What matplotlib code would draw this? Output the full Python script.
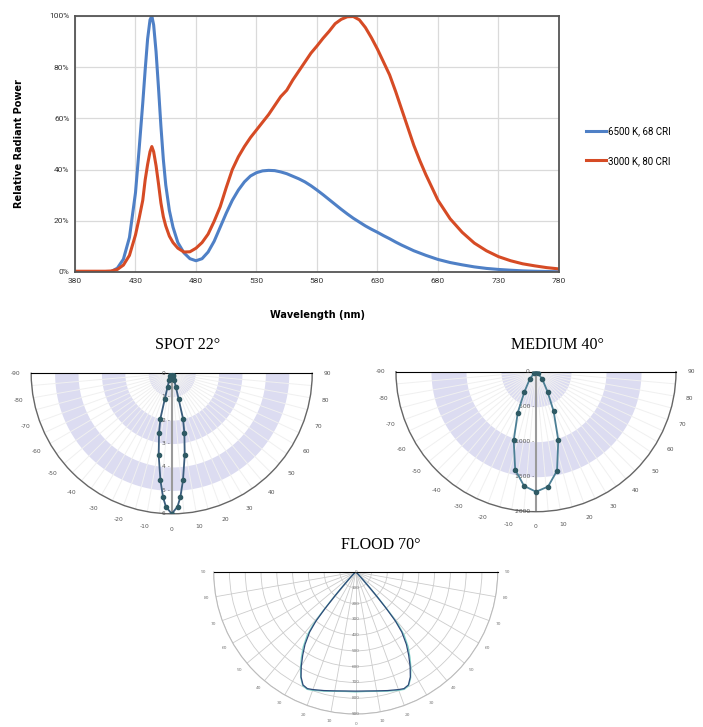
import matplotlib
matplotlib.use('Agg')
import matplotlib.pyplot as plt
import matplotlib.transforms as mtransforms
import numpy as np

# ---- spectral power distribution (wavelength nm, relative power %) ----
wavelength = [380, 390, 400, 405, 410, 415, 420, 425, 430, 433,
              436, 438, 440, 442, 443.5, 445, 447, 449, 451, 453,
              455, 458, 461, 465, 470, 475, 480, 485, 490, 495,
              500, 505, 510, 515, 520, 525, 530, 535, 540, 545,
              550, 555, 560, 565, 570, 575, 580, 585, 590, 595,
              600, 605, 610, 615, 620, 625, 630, 635, 640, 645,
              650, 655, 660, 665, 670, 675, 680, 690, 700, 710,
              720, 730, 740, 750, 760, 770, 780]
power_6500 = [0, 0, 0, 0, 0.2, 1.5, 5, 13.5, 31, 48,
              66, 79, 91, 98.5, 100, 96.5, 86, 72, 57, 44,
              34, 24, 17.5, 11.5, 7.5, 5.2, 4.4, 5.2, 7.8, 12,
              17.5, 23, 28, 32, 35.2, 37.5, 38.8, 39.5, 39.7, 39.6,
              39.1, 38.4, 37.4, 36.4, 35.2, 33.7, 32, 30.2, 28.3, 26.4,
              24.5, 22.7, 21, 19.5, 18, 16.7, 15.5, 14.2, 13, 11.7,
              10.5, 9.4, 8.3, 7.4, 6.5, 5.7, 4.9, 3.7, 2.8, 2.0,
              1.4, 1.0, 0.7, 0.45, 0.3, 0.2, 0.1]
power_3000 = [0.3, 0.3, 0.3, 0.3, 0.4, 1.0, 2.7, 6.5, 14.5, 21,
              28, 36, 42, 47, 49, 47, 41.5, 34.5, 27, 21.6,
              18, 14, 11.5, 9.3, 7.8, 7.9, 9.3, 11.5, 14.8, 19.8,
              25.5, 33, 40, 45, 49, 52.5, 55.5, 58.5, 61.5, 65,
              68.5, 71, 75, 78.5, 82, 85.5, 88.3, 91.3, 94, 97,
              98.7, 99.7, 99.8, 98.5, 95.5, 91.5, 87, 82, 77, 70.5,
              63.5, 56.5, 49.5, 43.5, 38, 33, 28, 20.8, 15.5, 11.3,
              8.3, 6.0, 4.4, 3.2, 2.4, 1.7, 1.2]
labels = ['6500 K, 68 CRI', '3000 K, 80 CRI']
x_ticks = [380, 430, 480, 530, 580, 630, 680, 730, 780]
y_ticks = [0, 20, 40, 60, 80, 100]

# ---- beam patterns (angle deg, intensity) ----
spot_angle = [-40, -30, -25, -20, -17, -15, -14, -12, -9, -6, -4, -2.5,
              0, 2.5, 4, 6, 9, 12, 14, 15, 17, 20, 25, 30, 40]
spot_int = [0.03, 0.08, 0.15, 0.3, 0.6, 1.15, 2.0, 2.6, 3.55, 4.6, 5.3, 5.7,
            6.0, 5.7, 5.3, 4.6, 3.55, 2.6, 2.0, 1.15, 0.6, 0.3, 0.15, 0.08, 0.03]
spot_rticks = [0, 1, 2, 3, 4, 5, 6]

medium_angle = [-60, -50, -40, -30, -24, -18, -12, -6, 0, 6, 12, 18, 24, 30, 40, 50, 60]
medium_int = [15, 40, 140, 330, 640, 1030, 1430, 1640, 1715,
              1650, 1445, 1030, 620, 330, 140, 40, 15]
medium_rticks = [0, 500, 1000, 1500, 2000]

flood_angle = [-60, -50, -47, -44, -42, -41, -40, -39, -37.5, -35, -32.5, -30, -27.5,
               -25, -22.5, -20, -15, -10, -5, 0, 5, 10, 15, 20, 22.5, 25, 27.5,
               30, 32.5, 35, 37.5, 39, 40, 41, 42, 44, 47, 50, 60]
flood_int_a = [3, 10, 20, 50, 120, 200, 300, 400, 480, 560, 625, 690, 750,
               790, 800, 793, 778, 765, 757, 755, 757, 765, 778, 793, 800, 790, 750,
               690, 625, 560, 480, 400, 300, 200, 120, 50, 20, 10, 3]
flood_int_b = [3, 12, 25, 60, 140, 230, 330, 430, 505, 580, 640, 700, 755,
               795, 805, 798, 782, 768, 760, 760, 760, 768, 782, 798, 805, 795, 755,
               700, 640, 580, 505, 430, 330, 230, 140, 60, 25, 12, 3]
flood_rticks = [0, 100, 200, 300, 400, 500, 600, 700, 800, 900]

W, H = 703, 727
fig = plt.figure(figsize=(W / 100, H / 100), dpi=100)
fig.patch.set_facecolor('white')

# ================= spectrum chart =================
ax = fig.add_axes([75 / W, 1 - 272 / H, 484 / W, 256 / H])
l1, = ax.plot(wavelength, power_6500, color='#4f80c6', lw=2.2)
l2, = ax.plot(wavelength, power_3000, color='#d64b25', lw=2.2)
ax.set_xlim(380, 780)
ax.set_ylim(0, 100)
ax.set_xticks(x_ticks)
ax.set_yticks(y_ticks)
ax.set_yticklabels([f'{v}%' for v in y_ticks])
ax.grid(True, color='#dadada', lw=0.9)
ax.set_axisbelow(True)
ax.tick_params(length=0, labelsize=6, labelcolor='#333333', pad=4)
for lab in ax.get_xticklabels() + ax.get_yticklabels():
    lab.set_family('Roboto')
for s in ax.spines.values():
    s.set_color('#555555')
    s.set_linewidth(1.3)
ax.set_xlabel('Wavelength (nm)', fontsize=7, fontweight='bold', labelpad=19)
ax.set_ylabel('Relative Radiant Power', fontsize=7, fontweight='bold', labelpad=18)
fig.legend([l1, l2], labels, loc='center left', bbox_to_anchor=(577 / W, 1 - 146 / H),
           frameon=False, handlelength=2.1, handletextpad=0.15,
           labelspacing=2.0, prop={'family': 'Roboto', 'size': 7})


def half_polar(cx, cy, R, rmax):
    # a half-disc wedge fills half of the polar axes box, so give it a 4R x 2R box
    a = fig.add_axes([(cx - 2 * R) / W, 1 - (cy + 1.5 * R) / H, 4 * R / W, 2 * R / H],
                     projection='polar')
    a.set_theta_zero_location('S')
    a.set_thetamin(-90)
    a.set_thetamax(90)
    a.set_ylim(0, rmax)
    a.set_yticks([])
    a.patch.set_alpha(0)
    for k in ('start', 'end', 'inner'):
        a.spines[k].set_visible(False)
    return a


th = np.linspace(-np.pi / 2, np.pi / 2, 200)


def shaded(a, rticks):
    step = rticks[1] - rticks[0]
    for r0 in rticks[:-1:2]:
        a.fill_between(th, r0, r0 + step, color='#dcdcf1', lw=0, zorder=0.5)
    ticks = list(range(-90, 91, 5))
    a.set_xticks(np.radians(ticks))
    a.set_xticklabels([f'{t}' if t % 10 == 0 else '' for t in ticks])
    a.xaxis.grid(True, color='#f0f0f0', lw=0.7)
    a.tick_params(axis='x', labelsize=4.3, labelcolor='#555555', pad=1,
                  direction='out', length=3, color='#666666')
    a.spines['polar'].set_color('#666666')
    a.spines['polar'].set_linewidth(1.0)
    a.axvline(0, color='#9a9a9a', lw=1.5, zorder=2)
    off = mtransforms.offset_copy(a.transData, fig=fig, x=-1.5, y=0, units='points')
    for r in rticks:
        a.text(0, r, f'{r} -', transform=off, ha='right', va='center',
               fontsize=4.3, color='#555555', zorder=3)


# ================= SPOT 22 =================
ax_s = half_polar(171.7, 373.3, 140.5, 6)
shaded(ax_s, spot_rticks)
ax_s.plot(np.radians(spot_angle), spot_int, color='#3b5d7d', lw=1.3, zorder=4,
          marker='o', ms=3, mfc='#2f5a64', mec='#2f5a64')
fig.text(188 / W, 1 - 345 / H, 'SPOT 22°', ha='center', va='center',
         family='Liberation Serif', fontsize=11.5)

# ================= MEDIUM 40 =================
ax_m = half_polar(536, 371.7, 140, 2000)
shaded(ax_m, medium_rticks)
ax_m.plot(np.radians(medium_angle), medium_int, color='#4c7f95', lw=1.3, zorder=4,
          marker='o', ms=3, mfc='#2f5a64', mec='#2f5a64')
fig.text(557 / W, 1 - 345 / H, 'MEDIUM 40°', ha='center', va='center',
         family='Liberation Serif', fontsize=11.5)

# ================= FLOOD 70 =================
ax_f = half_polar(355.7, 572, 142, 900)
ticks = list(range(-90, 91, 10))
ax_f.set_xticks(np.radians(ticks))
ax_f.set_xticklabels([f'{abs(t)}' for t in ticks])
ax_f.tick_params(axis='x', labelsize=3.2, labelcolor='#777777', pad=0, length=0)
ax_f.set_yticks(flood_rticks)
ax_f.set_yticklabels([])
ax_f.grid(True, color='#cccccc', lw=0.6)
ax_f.spines['polar'].set_color('#bbbbbb')
ax_f.spines['polar'].set_linewidth(0.8)
for r in flood_rticks:
    ax_f.text(0, r, f'{r}', ha='center', va='center', fontsize=3, color='#777777')
ax_f.plot(np.radians(flood_angle), flood_int_b, color='#7fd0c8', lw=0.9)
ax_f.plot(np.radians(flood_angle), flood_int_a, color='#2e4a78', lw=0.9)
fig.text(381 / W, 1 - 545 / H, 'FLOOD 70°', ha='center', va='center',
         family='Liberation Serif', fontsize=11.5)

fig.savefig('out.png', dpi=100, facecolor='white')
